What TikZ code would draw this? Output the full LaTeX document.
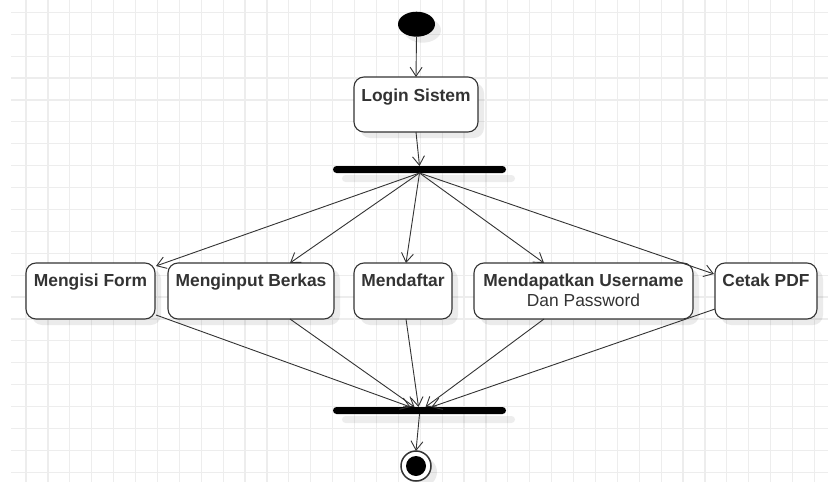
\documentclass[tikz,border=0pt]{standalone}
\usepackage{fontspec}
\newfontfamily\lsans{Liberation Sans}
\usetikzlibrary{arrows.meta,calc,shadows,shapes.geometric}
\definecolor{ink}{HTML}{333333}
\definecolor{gridc}{HTML}{EDEDED}
\begin{document}
\begin{tikzpicture}[x=1pt,y=-1pt,
  shad/.style={drop shadow={shadow xshift=6pt,shadow yshift=-6pt,opacity=0.08,fill=black}},
  box/.style={draw=ink,line width=1.1pt,fill=white,rounded corners=10pt,inner sep=0pt,outer sep=0pt,minimum height=56pt,shad},
  bar/.style={fill=black,draw=none,minimum width=173pt,minimum height=7pt,rounded corners=3.5pt,inner sep=0pt,outer sep=0pt,
              drop shadow={shadow xshift=9pt,shadow yshift=-9pt,opacity=0.07,fill=black}},
  lbl/.style={font=\lsans\bfseries\fontsize{17.4}{20}\selectfont,text=ink,inner sep=0pt,anchor=base},
  lblr/.style={font=\lsans\fontsize{17.4}{20}\selectfont,text=ink,inner sep=0pt,anchor=base},
  arr/.style={draw=ink,line width=0.9pt,-{Straight Barb[length=9pt,width=12pt]}}
]
\useasboundingbox (0,0) rectangle (828,482);
\fill[white] (0,0) rectangle (828,482);
\foreach \i in {0,...,36} \draw[gridc,line width=1.2pt] ({26+21.9*\i},0) -- ({26+21.9*\i},482);
\foreach \j in {0,...,21} \draw[gridc,line width=1.2pt] (11,{12.3+21.9*\j}) -- (828,{12.3+21.9*\j});

% start
\node[ellipse,fill=black,minimum width=37pt,minimum height=25pt,inner sep=0pt,outer sep=0pt,shad] (start) at (416.5,24.2) {};
% login
\node[box,minimum width=124pt,minimum height=55pt] (login) at (416,104.5) {};
\node[lbl] (logint) at ($(login.north)+(0,24)$) {Login Sistem};
% fork
\node[bar] (f1) at (419.5,169.5) {};
% activities
\node[box,minimum width=129pt] (m1) at (90.5,291) {};
\node[box,minimum width=166pt] (m2) at (251,291) {};
\node[box,minimum width=98pt] (m3) at (403,291) {};
\node[box,minimum width=219pt] (m4) at (583.5,291) {};
\node[box,minimum width=102pt] (m5) at (766,291) {};
\node[lbl] (m1t) at ($(m1.north)+(0,23)$) {Mengisi Form};
\node[lbl] (m2t) at ($(m2.north)+(0,23)$) {Menginput Berkas};
\node[lbl] (m3t) at ($(m3.north)+(0,23)$) {Mendaftar};
\node[lbl] (m4t) at ($(m4.north)+(0,23)$) {Mendapatkan Username};
\node[lblr] (m4u) at ($(m4.north)+(0,43)$) {Dan Password};
\node[lbl] (m5t) at ($(m5.north)+(0,23)$) {Cetak PDF};
% join
\node[bar] (j) at (419.5,410.5) {};
% end
\node[circle,draw=ink,line width=1.5pt,fill=white,minimum size=30pt,inner sep=0pt,outer sep=0pt,shad] (end) at (416,466) {};
\node[circle,fill=black,minimum size=20pt,inner sep=0pt] (endin) at (end.center) {};

% connectors
\draw[arr] (start.south) -- (login.north);
\draw[arr] (login.south) -- (f1.north);
\draw[arr] (f1.south) -- ($(m1.north east)+(1,3)$);
\draw[arr] (f1.south) -- ($(m2.north)+(39,0)$);
\draw[arr] (f1.south) -- ($(m3.north)+(3,0)$);
\draw[arr] (f1.south) -- ($(m4.north)+(-39.5,0)$);
\draw[arr] (f1.south) -- ($(m5.north west)+(-1,11)$);
\draw[arr] ($(m1.south east)+(1,-4)$) -- ($(j.north)+(-9,0)$);
\draw[arr] ($(m2.south)+(39,0)$) -- ($(j.north)+(-5,0)$);
\draw[arr] ($(m3.south)+(3,0)$) -- ($(j.north)+(-1,0)$);
\draw[arr] ($(m4.south)+(-39.5,0)$) -- ($(j.north)+(6,0)$);
\draw[arr] ($(m5.south west)+(0,-10)$) -- ($(j.north)+(12,0)$);
\draw[arr] (j.south) -- (end.north);
\end{tikzpicture}
\end{document}
